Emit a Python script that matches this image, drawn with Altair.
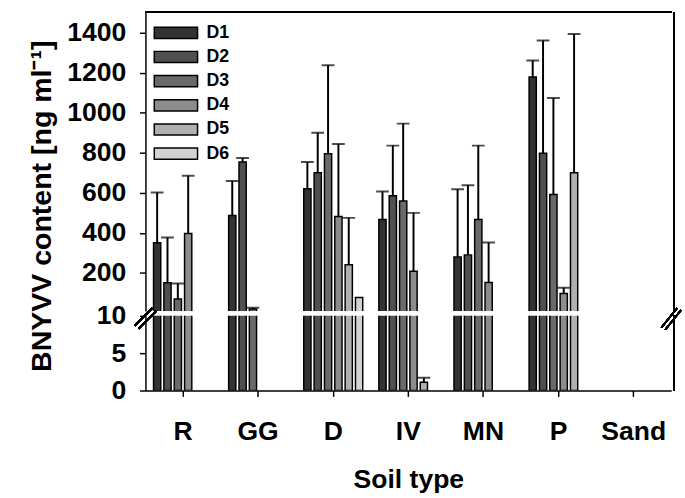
import altair as alt
import pandas as pd

soils = ["R", "GG", "D", "IV", "MN", "P", "Sand"]
series = ["D1", "D2", "D3", "D4", "D5", "D6"]
colors = ["#333333", "#505050", "#6a6a6a", "#8c8c8c", "#b0b0b0", "#d2d2d2"]

# bar heights (mean) and top of error bar (mean + SD), soil order; None = no bar
d1_mean = [351, 487, 621, 467, 280, 1179, None]
d1_upper = [602, 659, 754, 607, 618, 1261, None]
d2_mean = [151, 754, 700, 585, 290, 798, None]
d2_upper = [377, 774, 900, 836, 638, 1361, None]
d3_mean = [69, 20, 795, 559, 467, 592, None]
d3_upper = [147, 26, 1238, 946, 836, 1074, None]
d4_mean = [397, None, 482, 208, 152, 97, None]
d4_upper = [685, None, 844, 500, 352, 126, None]
d5_mean = [None, None, 241, 1.1, None, 700, None]
d5_upper = [None, None, 475, 1.7, None, 1394, None]
d6_mean = [None, None, 77, None, None, None, None]
d6_upper = [None, None, None, None, None, None, None]

top_ticks = [200, 400, 600, 800, 1000, 1200, 1400]
bottom_ticks = [0, 5, 10]
top_domain = [10, 1503]
bottom_domain = [0, 10]

means = [d1_mean, d2_mean, d3_mean, d4_mean, d5_mean, d6_mean]
uppers = [d1_upper, d2_upper, d3_upper, d4_upper, d5_upper, d6_upper]
rows = []
for s, ms, us in zip(series, means, uppers):
    for soil, m, u in zip(soils, ms, us):
        if m is not None:
            rows.append({"soil": soil, "series": s, "mean": m, "upper": u})
df = pd.DataFrame(rows)
df_err = df.dropna(subset=["upper"])

W = 535
H_TOP = 304
H_BOT = 76
FONT = "Liberation Sans"

x_scale = alt.Scale(domain=soils, paddingInner=0.215, paddingOuter=0.1075)
xoff = alt.XOffset("series:N", scale=alt.Scale(domain=series, paddingInner=0.3))


def panel(domain, axis, xaxis, legend):
    x = alt.X("soil:N", scale=x_scale, axis=xaxis)
    ysc = alt.Scale(domain=domain, nice=False, zero=False)
    bars = alt.Chart(df).mark_bar(stroke="black", strokeWidth=1.5, clip=True).encode(
        x=x, xOffset=xoff,
        y=alt.Y("mean:Q", scale=ysc, axis=axis),
        y2=alt.datum(0),
        color=alt.Color("series:N", scale=alt.Scale(domain=series, range=colors), legend=legend),
    )
    err = alt.Chart(df_err).mark_rule(color="black", strokeWidth=2, clip=True).encode(
        x=x, xOffset=xoff,
        y=alt.Y("mean:Q", scale=ysc, axis=axis),
        y2="upper:Q",
    )
    caps = alt.Chart(df_err).mark_tick(color="black", thickness=2, size=13, clip=True).encode(
        x=x, xOffset=xoff,
        y=alt.Y("upper:Q", scale=ysc, axis=axis),
    )
    return [bars, err, caps]


axis_top = alt.Axis(values=top_ticks, format="d", title="BNYVV content [ng ml\u207b\u00b9]",
                    titleX=-91, titleY=197, titleFontSize=29, grid=False)
axis_bot = alt.Axis(values=bottom_ticks, format="d", title=None, grid=False)
xaxis_bot = alt.Axis(title="Soil type", labelAngle=0, labelPadding=23, titlePadding=23,
                     tickSize=6)

legend = alt.Legend(orient="none", legendX=22, legendY=12, title=None,
                    symbolType="M-3.67,-0.95L3.67,-0.95L3.67,0.95L-3.67,0.95Z",
                    symbolSize=144, symbolStrokeColor="black", symbolStrokeWidth=1.5,
                    symbolOpacity=1, labelFontSize=18, labelFont=FONT, labelFontWeight="bold",
                    labelColor="black", labelOffset=22, rowPadding=6.6)

frame_line = dict(color="black", strokeWidth=1.5)
top_extra = [
    alt.Chart(df).mark_rule(**frame_line).encode(x=alt.value(0), x2=alt.value(W), y=alt.value(0)),
    alt.Chart(df).mark_rule(**frame_line).encode(x=alt.value(W + 3), y=alt.value(0), y2=alt.value(H_TOP)),
    alt.Chart(df).mark_rule(**frame_line).encode(x=alt.value(-11), x2=alt.value(7), y=alt.value(H_TOP + 15), y2=alt.value(H_TOP - 3)),
    alt.Chart(df).mark_rule(**frame_line).encode(x=alt.value(-7), x2=alt.value(11), y=alt.value(H_TOP + 18), y2=alt.value(H_TOP)),
    alt.Chart(df).mark_rule(**frame_line).encode(x=alt.value(W - 10), x2=alt.value(W + 6), y=alt.value(H_TOP + 17), y2=alt.value(H_TOP - 3)),
    alt.Chart(df).mark_rule(**frame_line).encode(x=alt.value(W - 6), x2=alt.value(W + 10), y=alt.value(H_TOP + 19), y2=alt.value(H_TOP - 1)),
]
bot_extra = [
    alt.Chart(df).mark_rule(**frame_line).encode(x=alt.value(W + 3), y=alt.value(0), y2=alt.value(H_BOT)),
]

upper = alt.layer(*panel(top_domain, axis_top, None, legend), *top_extra).properties(
    width=W, height=H_TOP)
lower = alt.layer(*panel(bottom_domain, axis_bot, xaxis_bot, None), *bot_extra).properties(
    width=W, height=H_BOT)

chart = alt.vconcat(upper, lower, spacing=5, bounds="flush").resolve_scale(color="independent").properties(
    padding={"left": 27, "top": 6, "right": 2, "bottom": 0}
).configure_view(stroke="transparent").configure_axis(
    labelFont=FONT, labelFontWeight="bold", labelFontSize=27, labelColor="black",
    titleFont=FONT, titleFontWeight="bold", titleFontSize=27, titleColor="black",
    domainColor="black", domainWidth=1.5, tickColor="black", tickWidth=1.5, tickSize=6,
    labelPadding=14,
)

chart.save("out.html", embed_options={"renderer": "svg", "actions": False})
